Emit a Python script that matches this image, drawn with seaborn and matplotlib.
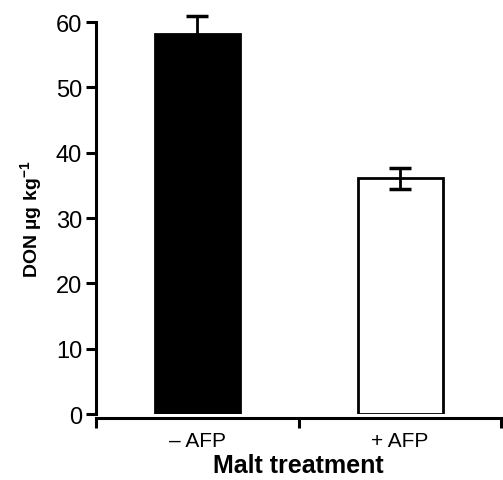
import matplotlib
matplotlib.use('Agg')
import seaborn as sns
import matplotlib.pyplot as plt

# Dados
tratamentos = ['\u2013 AFP', '+ AFP']
medias = [58.2, 36.1]
erros = [2.8, 1.6]
cores = ['black', 'white']

sns.set_style('white')
plt.rcParams['font.family'] = ['Liberation Sans', 'DejaVu Sans']
plt.rcParams['mathtext.fontset'] = 'custom'
plt.rcParams['mathtext.bf'] = 'Liberation Sans:bold'
plt.rcParams['mathtext.rm'] = 'Liberation Sans'
plt.rcParams['text.color'] = 'black'
plt.rcParams['axes.labelcolor'] = 'black'
plt.rcParams['xtick.color'] = 'black'
plt.rcParams['ytick.color'] = 'black'

fig = plt.figure(figsize=(5.03, 4.81), dpi=100)
ax = fig.add_axes([0.191, 0.137, 0.806, 0.815])

sns.barplot(
    x=tratamentos,
    y=medias,
    hue=tratamentos,
    palette=cores,
    edgecolor='black',
    linewidth=2,
    width=0.42,
    legend=False,
    ax=ax
)

ax.errorbar(
    range(len(medias)),
    medias,
    yerr=erros,
    fmt='none',
    ecolor='black',
    elinewidth=2,
    capsize=8,
    capthick=2.5,
    zorder=5,
    clip_on=False
)

ax.set_xlim(-0.5, 1.5)
ax.set_ylim(0, 60)
ax.set_yticks(range(0, 61, 10))
ax.set_xticks([0, 1])
ax.set_xticklabels(tratamentos)
ax.set_xticks([-0.5, 0.5, 1.5], minor=True)
ax.tick_params(axis='x', which='major', bottom=True, length=0, pad=9, labelsize=15)
ax.tick_params(axis='x', which='minor', bottom=True, length=7, width=2.2, direction='out')
ax.tick_params(axis='y', left=True, length=7, width=2.2, direction='out', labelsize=17, pad=3)

for lado in ['top', 'right']:
    ax.spines[lado].set_visible(False)
for lado in ['left', 'bottom']:
    ax.spines[lado].set_linewidth(2.2)
    ax.spines[lado].set_color('black')
ax.spines['bottom'].set_position(('outward', 3))

ax.set_xlabel('Malt treatment', fontsize=18, fontweight='bold', labelpad=2)
ax.set_ylabel(r'DON µg kg$^{\mathbf{-1}}$', fontsize=14, fontweight='bold', labelpad=8)

fig.savefig('out.png', dpi=100)
